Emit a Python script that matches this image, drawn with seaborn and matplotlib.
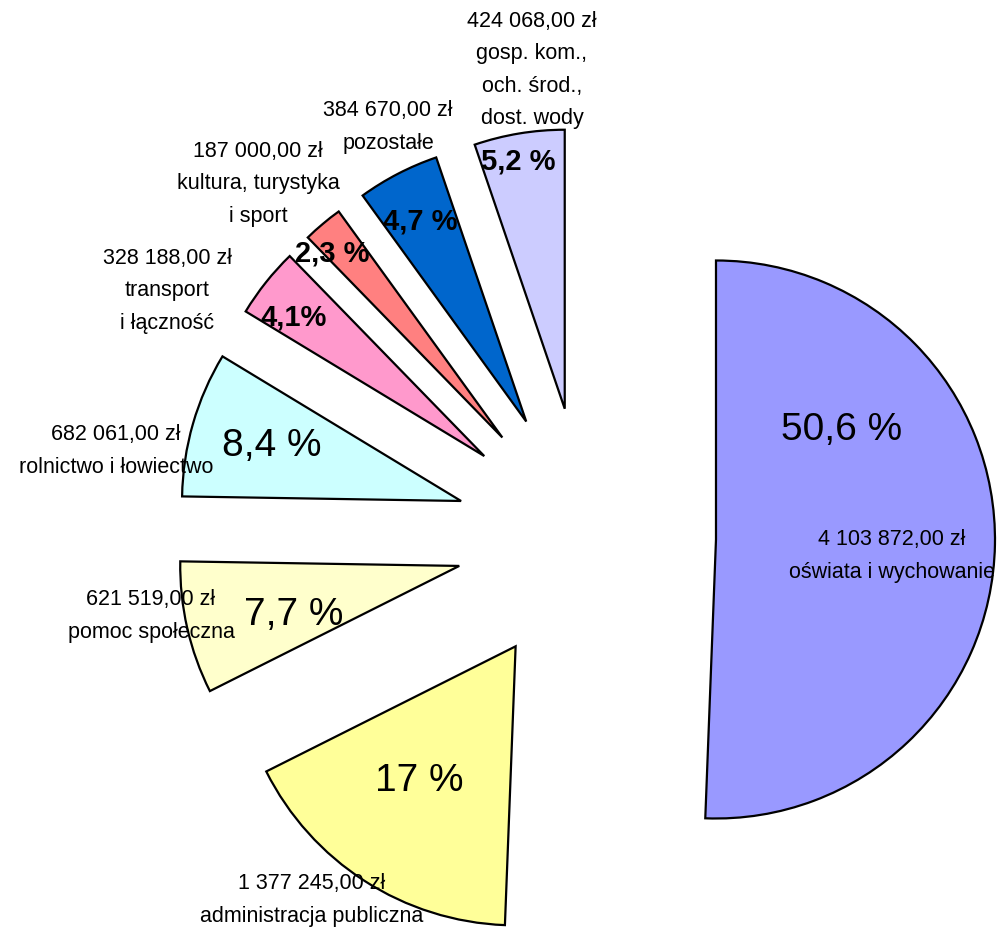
import matplotlib
matplotlib.use("Agg")
import matplotlib.pyplot as plt
import seaborn as sns

# data, clockwise from 12 o'clock
categories = ["oświata i wychowanie", "administracja publiczna", "pomoc społeczna",
              "rolnictwo i łowiectwo", "transport\ni łączność", "kultura, turystyka\ni sport",
              "pozostałe", "gosp. kom.,\noch. środ.,\ndost. wody"]
amounts = [4103872.00, 1377245.00, 621519.00, 682061.00, 328188.00, 187000.00, 384670.00, 424068.00]
pct_labels = ["50,6 %", "17 %", "7,7 %", "8,4 %", "4,1%", "2,3 %", "4,7 %", "5,2 %"]

colors = ["#9999FF", "#FFFF99", "#FFFFCC", "#CCFFFF", "#FF99CC", "#FF8080", "#0066CC", "#CCCCFF"]

# layout (pixels in the 1005x927 picture)
W, H = 1005, 927
cx, cy, R = 586, 537, 279
explode_frac = 0.466
pct_pos = [(842, 430), (419, 781), (294, 615), (272, 446), (294, 318), (332, 254), (420, 222), (518, 162)]
pct_bold = [False, False, False, False, True, True, True, True]
name_pos = [(892, 556), (312, 900), (151, 616), (116, 451), (167, 291), (258, 184), (388, 127), (532, 70)]


def money(v):
    s = f"{v:,.2f}".replace(",", " ").replace(".", ",")
    return s + " zł"


sns.set_theme(style="white")
plt.rcParams['font.family'] = ['Liberation Sans', 'DejaVu Sans']

fig = plt.figure(figsize=(W / 100, H / 100), dpi=100)
ax = fig.add_axes([0, 0, 1, 1])

ax.pie(amounts, explode=[explode_frac] * len(amounts), colors=colors, startangle=90,
       counterclock=False, radius=1,
       wedgeprops=dict(edgecolor="black", linewidth=1.6))
ax.set_xlim(-cx / R, (W - cx) / R)
ax.set_ylim(-(H - cy) / R, cy / R)
ax.set_aspect("equal")
ax.axis("off")

for i in range(len(amounts)):
    x, y = pct_pos[i]
    if pct_bold[i]:
        fig.text(x / W, 1 - y / H, pct_labels[i], ha="center", va="center",
                 fontsize=21, fontweight="bold", color="black")
    else:
        fig.text(x / W, 1 - y / H, pct_labels[i], ha="center", va="center",
                 fontsize=28, color="black")

for i in range(len(amounts)):
    x, y = name_pos[i]
    fig.text(x / W, 1 - y / H, money(amounts[i]) + "\n" + categories[i],
             ha="center", va="center", multialignment="center",
             fontsize=15.5, linespacing=1.72, color="black")

fig.savefig("out.png", dpi=100, facecolor="white")
